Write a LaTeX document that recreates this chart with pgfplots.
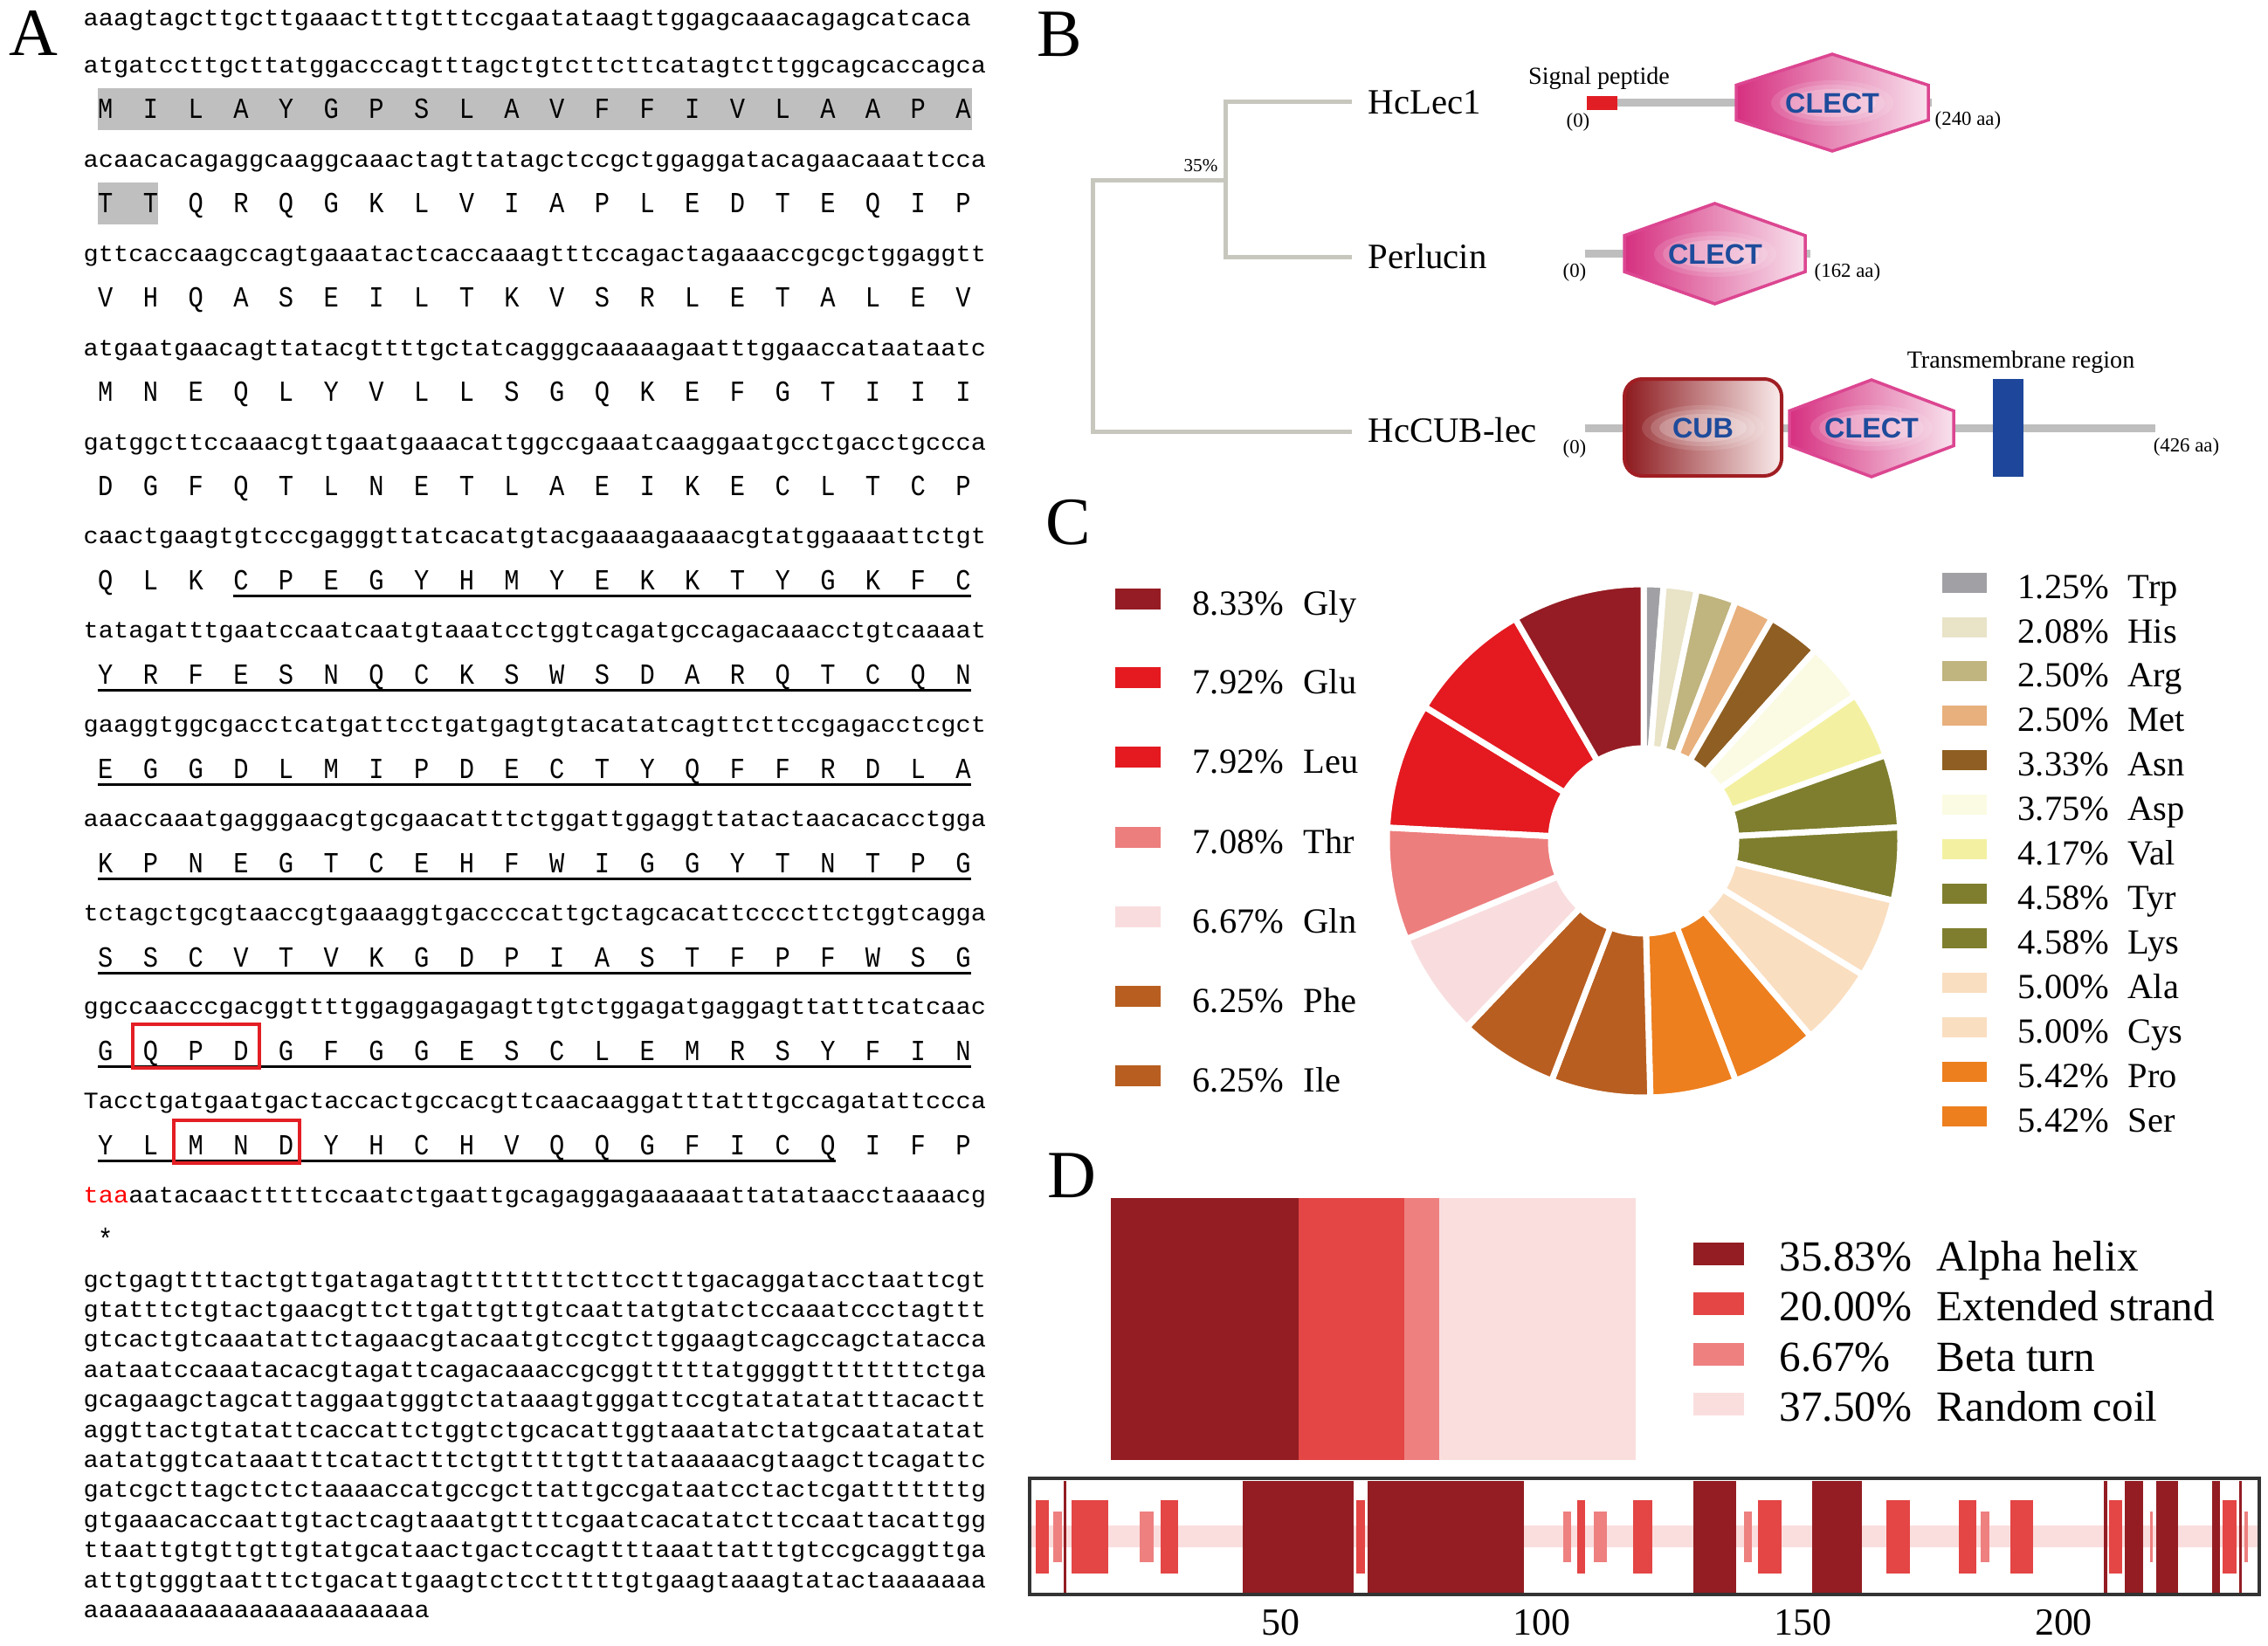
\documentclass[border=0pt]{standalone}
\usepackage{pgfplots}
\pgfplotsset{compat=1.18}
\usepackage{pgfplotstable}
\usepackage{fontspec}
\setmainfont{Liberation Serif}
\setsansfont{Liberation Sans}
\newfontfamily\seqfont{Liberation Mono}[FakeStretch=1.0746]
\newfontfamily\aafont{Liberation Mono}[FakeStretch=0.86]

% panel colours
\definecolor{treegray}{RGB}{200,199,190}
\definecolor{linegray}{RGB}{190,190,190}
\definecolor{sigred}{RGB}{225,30,36}
\definecolor{clectL}{RGB}{214,48,128}
\definecolor{clectR}{RGB}{248,226,237}
\definecolor{clectB}{RGB}{220,70,145}
\definecolor{cubL}{RGB}{140,26,30}
\definecolor{cubR}{RGB}{250,236,236}
\definecolor{cubB}{RGB}{160,30,35}
\definecolor{tmblue}{RGB}{30,70,155}
\definecolor{txtblue}{RGB}{30,75,155}
\definecolor{boxred}{RGB}{227,30,36}
\definecolor{cHelix}{RGB}{147,29,35}
\definecolor{cStrand}{RGB}{228,69,69}
\definecolor{cTurn}{RGB}{238,128,128}
\definecolor{cCoil}{RGB}{250,222,222}
% amino acid colours
\definecolor{cGly}{RGB}{149,28,36}
\definecolor{cGlu}{RGB}{228,26,32}
\definecolor{cLeu}{RGB}{228,26,32}
\definecolor{cThr}{RGB}{237,126,126}
\definecolor{cGln}{RGB}{249,221,222}
\definecolor{cPhe}{RGB}{184,94,32}
\definecolor{cIle}{RGB}{184,94,32}
\definecolor{cSer}{RGB}{237,127,30}
\definecolor{cPro}{RGB}{237,127,30}
\definecolor{cCys}{RGB}{250,222,192}
\definecolor{cAla}{RGB}{250,222,192}
\definecolor{cLys}{RGB}{126,126,46}
\definecolor{cTyr}{RGB}{126,126,46}
\definecolor{cVal}{RGB}{243,241,161}
\definecolor{cAsp}{RGB}{251,251,227}
\definecolor{cAsn}{RGB}{143,94,34}
\definecolor{cMet}{RGB}{232,176,124}
\definecolor{cArg}{RGB}{192,180,127}
\definecolor{cHis}{RGB}{233,227,199}
\definecolor{cTrp}{RGB}{161,161,165}

% amino acid composition, clockwise from the top
\pgfplotstableread{
name val col
Trp 1.25 cTrp
His 2.08 cHis
Arg 2.50 cArg
Met 2.50 cMet
Asn 3.33 cAsn
Asp 3.75 cAsp
Val 4.17 cVal
Tyr 4.58 cTyr
Lys 4.58 cLys
Ala 5.00 cAla
Cys 5.00 cCys
Pro 5.42 cPro
Ser 5.42 cSer
Ile 6.25 cIle
Phe 6.25 cPhe
Gln 6.67 cGln
Thr 7.08 cThr
Leu 7.92 cLeu
Glu 7.92 cGlu
Gly 8.33 cGly
}\aatable

\newcommand\seqsize{\seqfont\fontsize{7.6}{8}\selectfont}
\newcommand\nt[2]{\node[anchor=base west,inner sep=0pt,font=\seqsize] at (95,{30+53.9*#1}) {#2};}
\newcommand\prot[2]{\foreach \aaL [count=\aaI from 0] in {#2}
  {\node[anchor=base,inner sep=0pt,font=\aafont\fontsize{9.5}{10}\selectfont] at ({95+17.23*(3*\aaI+1.5)},{28+53.95*#1}) {\aaL};}}
\newcommand\uline[3]{\draw[line width=0.3mm] ({95+17.23*(3*#2+1)},{35+53.95*#1}) -- ({95+17.23*(3*#3+2)},{35+53.95*#1});}
\newcommand\utr[2]{\node[anchor=base west,inner sep=0pt,font=\seqsize] at (95,{1474+34.4*#1}) {#2};}
\newcommand\hexa[4]{\shadedraw[left color=clectL, right color=clectR, draw=clectB, line width=0.35mm]
  (#1,{#3+0.32*(#4-#3)}) -- ({(#1+#2)/2},#3) -- (#2,{#3+0.32*(#4-#3)}) -- (#2,{#4-0.32*(#4-#3)}) -- ({(#1+#2)/2},#4) -- (#1,{#4-0.32*(#4-#3)}) -- cycle;}
% domain name with a soft white glow behind it
\newcommand\dom[3]{\fill[white,opacity=0.12] (#1,#2) ellipse (70 and 26);
  \fill[white,opacity=0.15] (#1,#2) ellipse (60 and 21);
  \fill[white,opacity=0.2] (#1,#2) ellipse (50 and 16);
  \node[font=\sffamily\bfseries\fontsize{9.2}{10}\selectfont, text=txtblue, inner sep=0pt] at (#1,#2) {#3};}

\begin{document}
\begin{tikzpicture}
\useasboundingbox (0,0) rectangle (259.7mm,-188.5mm);

\begin{scope}[x=0.1mm, y=-0.1mm]
% ---------------- panel labels
\foreach \lab/\px/\py in {A/38/38, B/1213/39, C/1223/598, D/1227/1346}
  \node[font=\fontsize{22}{24}\selectfont, inner sep=0pt] at (\px,\py) {\lab};

% ---------------- panel A
\fill[black!25] (112,101) rectangle (1113,149);
\fill[black!25] (112,209) rectangle (181,257);
\nt{0}{aaagtagcttgcttgaaactttgtttccgaatataagttggagcaaacagagcatcaca}
\nt{1}{atgatccttgcttatggacccagtttagctgtcttcttcatagtcttggcagcaccagca}
\prot{2}{M,I,L,A,Y,G,P,S,L,A,V,F,F,I,V,L,A,A,P,A}
\nt{3}{acaacacagaggcaaggcaaactagttatagctccgctggaggatacagaacaaattcca}
\prot{4}{T,T,Q,R,Q,G,K,L,V,I,A,P,L,E,D,T,E,Q,I,P}
\nt{5}{gttcaccaagccagtgaaatactcaccaaagtttccagactagaaaccgcgctggaggtt}
\prot{6}{V,H,Q,A,S,E,I,L,T,K,V,S,R,L,E,T,A,L,E,V}
\nt{7}{atgaatgaacagttatacgttttgctatcagggcaaaaagaatttggaaccataataatc}
\prot{8}{M,N,E,Q,L,Y,V,L,L,S,G,Q,K,E,F,G,T,I,I,I}
\nt{9}{gatggcttccaaacgttgaatgaaacattggccgaaatcaaggaatgcctgacctgccca}
\prot{10}{D,G,F,Q,T,L,N,E,T,L,A,E,I,K,E,C,L,T,C,P}
\nt{11}{caactgaagtgtcccgagggttatcacatgtacgaaaagaaaacgtatggaaaattctgt}
\prot{12}{Q,L,K,C,P,E,G,Y,H,M,Y,E,K,K,T,Y,G,K,F,C}
\nt{13}{tatagatttgaatccaatcaatgtaaatcctggtcagatgccagacaaacctgtcaaaat}
\prot{14}{Y,R,F,E,S,N,Q,C,K,S,W,S,D,A,R,Q,T,C,Q,N}
\nt{15}{gaaggtggcgacctcatgattcctgatgagtgtacatatcagttcttccgagacctcgct}
\prot{16}{E,G,G,D,L,M,I,P,D,E,C,T,Y,Q,F,F,R,D,L,A}
\nt{17}{aaaccaaatgagggaacgtgcgaacatttctggattggaggttatactaacacacctgga}
\prot{18}{K,P,N,E,G,T,C,E,H,F,W,I,G,G,Y,T,N,T,P,G}
\nt{19}{tctagctgcgtaaccgtgaaaggtgaccccattgctagcacattccccttctggtcagga}
\prot{20}{S,S,C,V,T,V,K,G,D,P,I,A,S,T,F,P,F,W,S,G}
\nt{21}{ggccaacccgacggttttggaggagagagttgtctggagatgaggagttatttcatcaac}
\prot{22}{G,Q,P,D,G,F,G,G,E,S,C,L,E,M,R,S,Y,F,I,N}
\nt{23}{Tacctgatgaatgactaccactgccacgttcaacaaggatttatttgccagatattccca}
\prot{24}{Y,L,M,N,D,Y,H,C,H,V,Q,Q,G,F,I,C,Q,I,F,P}
\nt{25}{{\color{red}taa}aatacaactttttccaatctgaattgcagaggagaaaaaattatataacctaaaacg}
\prot{26}{*}
\uline{12}{3}{19}
\uline{14}{0}{19}
\uline{16}{0}{19}
\uline{18}{0}{19}
\uline{20}{0}{19}
\uline{22}{0}{19}
\uline{24}{0}{16}
\draw[boxred, line width=0.45mm] (152,1173) rectangle (297,1223);
\draw[boxred, line width=0.45mm] (199,1283) rectangle (343,1332);
\utr{0}{gctgagttttactgttgatagatagttttttttcttcctttgacaggatacctaattcgt}
\utr{1}{gtatttctgtactgaacgttcttgattgttgtcaattatgtatctccaaatccctagttt}
\utr{2}{gtcactgtcaaatattctagaacgtacaatgtccgtcttggaagtcagccagctatacca}
\utr{3}{aataatccaaatacacgtagattcagacaaaccgcggtttttatggggttttttttctga}
\utr{4}{gcagaagctagcattaggaatgggtctataaagtgggattccgtatatatatttacactt}
\utr{5}{aggttactgtatattcaccattctggtctgcacattggtaaatatctatgcaatatatat}
\utr{6}{aatatggtcataaatttcatactttctgtttttgtttataaaaacgtaagcttcagattc}
\utr{7}{gatcgcttagctctctaaaaccatgccgcttattgccgataatcctactcgatttttttg}
\utr{8}{gtgaaacaccaattgtactcagtaaatgttttcgaatcacatatcttccaattacattgg}
\utr{9}{ttaattgtgttgttgtatgcataactgactccagttttaaattatttgtccgcaggttga}
\utr{10}{attgtgggtaatttctgacattgaagtctcctttttgtgaagtaaagtatactaaaaaaa}
\utr{11}{aaaaaaaaaaaaaaaaaaaaaaa}

% ---------------- panel B
\draw[treegray, line width=0.5mm] (1548,117) -- (1403,117) -- (1403,294) -- (1548,294);
\draw[treegray, line width=0.5mm] (1403,206) -- (1251,206) -- (1251,494) -- (1548,494);
\node[font=\fontsize{6}{7}\selectfont, inner sep=0pt] at (1375,190) {35\%};
\node[font=\fontsize{11.6}{13}\selectfont, anchor=west, inner sep=0pt] at (1566,117) {HcLec1};
\node[font=\fontsize{11.6}{13}\selectfont, anchor=west, inner sep=0pt] at (1566,294) {Perlucin};
\node[font=\fontsize{11.6}{13}\selectfont, anchor=west, inner sep=0pt] at (1566,493) {HcCUB-lec};
% HcLec1
\fill[linegray] (1852,113) rectangle (2212,122);
\fill[sigred] (1817,110) rectangle (1852,126);
\hexa{1988}{2208}{62}{173}
\dom{2098}{118}{CLECT}
\node[font=\fontsize{8}{9}\selectfont, anchor=base, inner sep=0pt] at (1831,97) {Signal peptide};
\node[font=\fontsize{6.5}{7}\selectfont, inner sep=0pt] at (1807,140) {(0)};
\node[font=\fontsize{6.5}{7}\selectfont, anchor=west, inner sep=0pt] at (2215,138) {(240 aa)};
% Perlucin
\fill[linegray] (1815,286) rectangle (2073,295);
\hexa{1860}{2067}{233}{348}
\dom{1964}{291}{CLECT}
\node[font=\fontsize{6.5}{7}\selectfont, inner sep=0pt] at (1803,312) {(0)};
\node[font=\fontsize{6.5}{7}\selectfont, anchor=west, inner sep=0pt] at (2077,312) {(162 aa)};
% HcCUB-lec
\fill[linegray] (1815,486) rectangle (2468,495);
\shadedraw[left color=cubL, right color=cubR, draw=cubB, line width=0.4mm, rounded corners=2mm] (1860,434) rectangle (2040,545);
\dom{1950}{490}{CUB}
\hexa{2049}{2237}{435}{546}
\dom{2143}{490}{CLECT}
\fill[tmblue] (2282,434) rectangle (2317,546);
\node[font=\fontsize{8}{9}\selectfont, inner sep=0pt] at (2314,415) {Transmembrane region};
\node[font=\fontsize{6.5}{7}\selectfont, inner sep=0pt] at (1803,514) {(0)};
\node[font=\fontsize{6.5}{7}\selectfont, anchor=west, inner sep=0pt] at (2465,512) {(426 aa)};

% ---------------- panel C legend
\foreach \cc/\yy/\pp/\nn in {cGly/686/8.33/Gly, cGlu/776/7.92/Glu, cLeu/867/7.92/Leu, cThr/959/7.08/Thr,
    cGln/1050/6.67/Gln, cPhe/1141/6.25/Phe, cIle/1232/6.25/Ile}{
  \fill[\cc] (1277,{\yy-12}) rectangle (1329,{\yy+12});
  \node[font=\fontsize{11.5}{13}\selectfont, anchor=base west, inner sep=0pt] at (1365,{\yy+18}) {\pp\%};
  \node[font=\fontsize{11.5}{13}\selectfont, anchor=base west, inner sep=0pt] at (1492,{\yy+18}) {\nn};
}
\foreach \cc/\pp/\nn [count=\k from 0] in {cTrp/1.25/Trp, cHis/2.08/His, cArg/2.50/Arg, cMet/2.50/Met,
    cAsn/3.33/Asn, cAsp/3.75/Asp, cVal/4.17/Val, cTyr/4.58/Tyr, cLys/4.58/Lys, cAla/5.00/Ala,
    cCys/5.00/Cys, cPro/5.42/Pro, cSer/5.42/Ser}{
  \pgfmathsetmacro\yy{667.1+50.94*\k}
  \fill[\cc] (2224,{\yy-11.5}) rectangle (2275,{\yy+11.5});
  \node[font=\fontsize{11.5}{13}\selectfont, anchor=base west, inner sep=0pt] at (2310,{\yy+18}) {\pp\%};
  \node[font=\fontsize{11.5}{13}\selectfont, anchor=base west, inner sep=0pt] at (2436,{\yy+18}) {\nn};
}

% ---------------- panel D legend
\foreach \cc/\yy/\pp/\nn in {cHelix/1436/35.83/Alpha helix, cStrand/1493/20.00/Extended strand,
    cTurn/1551/6.67/Beta turn, cCoil/1608/37.50/Random coil}{
  \fill[\cc] (1939,{\yy-13}) rectangle (1997,{\yy+13});
  \node[font=\fontsize{14}{16}\selectfont, anchor=base west, inner sep=0pt] at (2037,{\yy+19}) {\pp\%};
  \node[font=\fontsize{14}{16}\selectfont, anchor=base west, inner sep=0pt] at (2217,{\yy+19}) {\nn};
}
\end{scope}

% ---------------- panel C donut
\begin{axis}[at={(188.2mm,-96.3mm)}, anchor=center, hide axis, scale only axis,
    x=0.1mm, y=0.1mm, xmin=-300, xmax=300, ymin=-300, ymax=300, clip=false]
\addplot[draw=none] coordinates {(0,0)};
\pgfplotsextra{
  \def\cum{0}
  \pgfplotsforeachungrouped \i in {0,...,19}{%
    \pgfplotstablegetelem{\i}{val}\of\aatable \let\myval\pgfplotsretval
    \pgfplotstablegetelem{\i}{col}\of\aatable \let\mycol\pgfplotsretval
    \pgfmathsetmacro\angA{90-3.6*\cum}
    \pgfmathsetmacro\angB{90-3.6*(\cum+\myval)}
    \pgfmathsetmacro\cum{\cum+\myval}
    \begin{scope}[shift={(axis cs:0,0)}]
      \fill[fill=\mycol, draw=white, line width=0.7mm] (\angA:29.4mm)
        arc[start angle=\angA, end angle=\angB, radius=29.4mm] -- (\angB:10.6mm)
        arc[start angle=\angB, end angle=\angA, radius=10.6mm] -- cycle;
    \end{scope}
  }
}
\end{axis}

% ---------------- panel D stacked bar
\begin{axis}[at={(127.2mm,-167.2mm)}, anchor=south west, scale only axis,
    width=60.1mm, height=30mm, hide axis, xbar stacked, bar width=30mm,
    xmin=0, xmax=100, ymin=-0.5, ymax=0.5]
\addplot[fill=cHelix, draw=none] coordinates {(35.83,0)};
\addplot[fill=cStrand, draw=none] coordinates {(20.00,0)};
\addplot[fill=cTurn, draw=none] coordinates {(6.67,0)};
\addplot[fill=cCoil, draw=none] coordinates {(37.50,0)};
\end{axis}

% ---------------- panel D residue track
\begin{axis}[at={(117.9mm,-182.6mm)}, anchor=south west, scale only axis,
    width=140.8mm, height=13.3mm, xmin=1.8, xmax=237.5, ymin=-1, ymax=1,
    ytick=\empty, xtick={50,100,150,200}, major tick length=0pt,
    axis line style={line width=0.4mm, black!80}, axis on top,
    unbounded coords=jump,
    /pgf/number format/assume math mode=true,
    xticklabel style={anchor=north, inner sep=0pt, yshift=-1.7mm, font=\fontsize{12.5}{14}\selectfont}]
% random coil
\addplot[cCoil, line width=2.5mm, mark=none] coordinates {(1.8,0) (237.5,0)};
% beta turn
\addplot[cTurn, line width=5.8mm, mark=none] coordinates {
(6.4,0)(8.0,0)(nan,nan)(22.9,0)(25.6,0)(nan,nan)(104.0,0)(105.6,0)(nan,nan)
(110.0,0)(112.4,0)(nan,nan)(138.7,0)(140.3,0)(nan,nan)(184.1,0)(185.7,0)(nan,nan)
(216.6,0)(217.1,0)(nan,nan)(234.6,0)(235.4,0)};
% extended strand
\addplot[cStrand, line width=8.4mm, mark=none] coordinates {
(3.0,0)(5.4,0)(nan,nan)(9.9,0)(16.8,0)(nan,nan)(26.9,0)(30.2,0)(nan,nan)
(64.4,0)(66.0,0)(nan,nan)(106.7,0)(108.2,0)(nan,nan)(117.4,0)(121.2,0)(nan,nan)
(141.4,0)(145.9,0)(nan,nan)(166.1,0)(170.6,0)(nan,nan)(179.9,0)(183.3,0)(nan,nan)
(189.8,0)(194.1,0)(nan,nan)(208.7,0)(211.2,0)(nan,nan)(230.5,0)(233.1,0)};
% alpha helix
\addplot[cHelix, line width=12.8mm, mark=none] coordinates {
(8.4,0)(8.9,0)(nan,nan)(42.7,0)(63.9,0)(nan,nan)(66.6,0)(96.6,0)(nan,nan)
(129.0,0)(137.2,0)(nan,nan)(151.8,0)(161.3,0)(nan,nan)(207.7,0)(208.3,0)(nan,nan)
(211.7,0)(215.2,0)(nan,nan)(217.7,0)(222.0,0)(nan,nan)(228.5,0)(230.0,0)(nan,nan)
(233.7,0)(234.2,0)};
\end{axis}
\end{tikzpicture}
\end{document}
